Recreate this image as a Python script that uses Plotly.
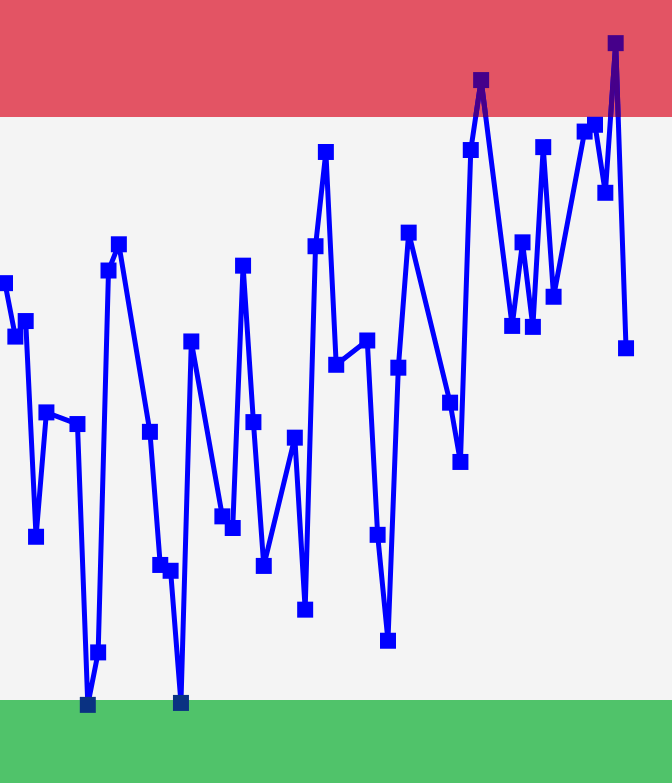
import plotly.graph_objects as go
import pandas as pd

dates = [
    "2024-01-01", "2024-01-02", "2024-01-03", "2024-01-04", "2024-01-05",
    "2024-01-08", "2024-01-09", "2024-01-10", "2024-01-11", "2024-01-12",
    "2024-01-15", "2024-01-16", "2024-01-17", "2024-01-18", "2024-01-19",
    "2024-01-22", "2024-01-23", "2024-01-24", "2024-01-25", "2024-01-26",
    "2024-01-29", "2024-01-30", "2024-01-31", "2024-02-01", "2024-02-02",
    "2024-02-05", "2024-02-06", "2024-02-07", "2024-02-08", "2024-02-09",
    "2024-02-13", "2024-02-14", "2024-02-15", "2024-02-16",
    "2024-02-19", "2024-02-20", "2024-02-21", "2024-02-22", "2024-02-23",
    "2024-02-26", "2024-02-27", "2024-02-28", "2024-02-29", "2024-03-01",
]
values = [
    62.9, 57.4, 59.0, 36.8, 49.6,
    48.4, 19.5, 24.9, 64.2, 66.9,
    47.6, 33.9, 33.3, 19.7, 56.9,
    38.9, 37.7, 64.7, 48.6, 33.8,
    47.0, 29.3, 66.7, 76.4, 54.5,
    57.0, 37.0, 26.1, 54.2, 68.1,
    50.6, 44.5, 76.6, 83.8,
    58.5, 67.1, 58.4, 76.9, 61.5,
    78.5, 79.2, 72.2, 87.6, 56.2,
]
low_threshold = 20
high_threshold = 80

BLUE = "#0000ff"
PURPLE = "#46008a"
NAVY = "#0a3282"
RED_BAND = "#e35464"
GREEN_BAND = "#50c36a"
BG = "#f4f4f4"

ts = pd.to_datetime(dates)
tnum = ts.astype("int64").to_numpy()


def segments(cond_above, thr):
    """Split the polyline into pieces beyond a threshold (data space)."""
    xs, ys = [], []
    for i in range(len(values) - 1):
        v0, v1 = values[i], values[i + 1]
        t0, t1 = tnum[i], tnum[i + 1]
        in0 = v0 > thr if cond_above else v0 < thr
        in1 = v1 > thr if cond_above else v1 < thr
        if not (in0 or in1):
            continue
        if in0 and in1:
            pa, pb = (t0, v0), (t1, v1)
        else:
            f = (thr - v0) / (v1 - v0)
            tc = t0 + f * (t1 - t0)
            if in0:
                pa, pb = (t0, v0), (tc, thr)
            else:
                pa, pb = (tc, thr), (t1, v1)
        xs += [pd.Timestamp(int(pa[0])), pd.Timestamp(int(pb[0])), None]
        ys += [pa[1], pb[1], None]
    return xs, ys


fig = go.Figure()
fig.add_trace(go.Scatter(x=ts, y=values, mode="lines",
                         line=dict(color=BLUE, width=5), hoverinfo="skip"))
hx, hy = segments(True, high_threshold)
fig.add_trace(go.Scatter(x=hx, y=hy, mode="lines",
                         line=dict(color=PURPLE, width=5), hoverinfo="skip"))
lx, ly = segments(False, low_threshold)
fig.add_trace(go.Scatter(x=lx, y=ly, mode="lines",
                         line=dict(color=NAVY, width=5), hoverinfo="skip"))
marker_colors = [PURPLE if v > high_threshold else NAVY if v < low_threshold else BLUE
                 for v in values]
fig.add_trace(go.Scatter(x=ts, y=values, mode="markers",
                         marker=dict(symbol="square", size=16, color=marker_colors,
                                     line=dict(width=0))))

fig.add_shape(type="rect", xref="paper", yref="y", x0=0, x1=1,
              y0=high_threshold, y1=200, fillcolor=RED_BAND, line_width=0, layer="below")
fig.add_shape(type="rect", xref="paper", yref="y", x0=0, x1=1,
              y0=-100, y1=low_threshold, fillcolor=GREEN_BAND, line_width=0, layer="below")

fig.update_layout(
    width=672, height=783,
    margin=dict(l=0, r=0, t=0, b=0),
    paper_bgcolor=BG, plot_bgcolor=BG,
    showlegend=False,
    xaxis=dict(range=["2023-12-31 12:24", "2024-03-05 10:34"], visible=False,
               showgrid=False, zeroline=False),
    yaxis=dict(range=[11.46, 92.04], visible=False, showgrid=False, zeroline=False),
)

fig.write_html(
    "out.html",
    config={"displayModeBar": False},
    post_script="document.body.style.margin='0';document.body.style.overflow='hidden';"
                "document.documentElement.style.background='%s';" % BG,
)
